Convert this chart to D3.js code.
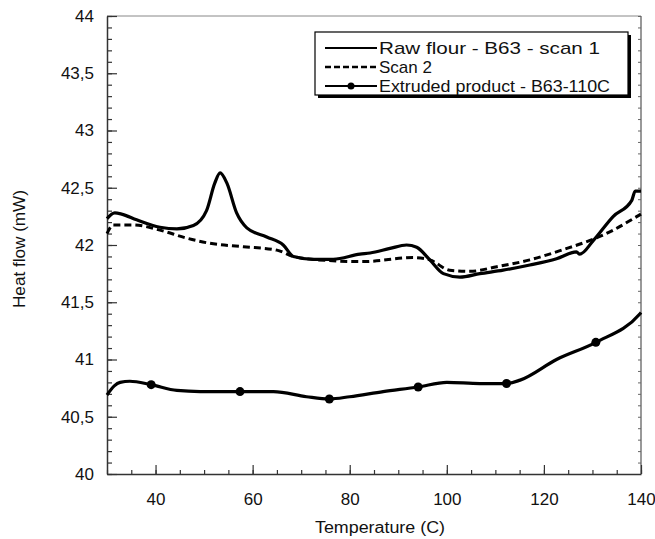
<!DOCTYPE html>
<html>
<head>
<meta charset="utf-8">
<script src="https://cdn.jsdelivr.net/npm/d3@7"></script>
<style>
body { margin: 0; background: #fff; }
text { font-family: "Liberation Sans", Arial, sans-serif; }
</style>
</head>
<body>
<script>
// scan 1 (raw flour)
const scan1 = [
  [30, 42.23], [31.6, 42.28], [33, 42.27], [36.1, 42.22], [40.9, 42.155], [44.4, 42.14],
  [47.8, 42.17], [50.5, 42.30], [52.2, 42.54], [53.3, 42.63], [54.7, 42.54], [56.7, 42.28],
  [58.8, 42.15], [62.9, 42.07], [66.3, 42.0], [68.4, 41.90], [72.5, 41.875], [76.6, 41.875],
  [82.1, 41.92], [84.2, 41.93], [88.3, 41.97], [91.7, 42.0], [93.8, 41.98], [96.5, 41.87],
  [99.3, 41.75], [102.7, 41.72], [106.8, 41.75], [111.6, 41.78], [117.1, 41.825],
  [122.6, 41.88], [126.7, 41.94], [127.4, 41.92], [130.2, 42.04], [134.3, 42.25],
  [138.1, 42.39], [138.8, 42.47], [140, 42.47]
];
// scan 2
const scan2 = [
  [30, 42.10], [31.3, 42.175], [35.4, 42.175], [40.9, 42.13], [46.4, 42.06], [51.2, 42.015],
  [58.1, 41.985], [65, 41.955], [68.4, 41.90], [75.3, 41.865], [82.8, 41.855], [93.1, 41.89],
  [96.5, 41.87], [100.6, 41.78], [104.8, 41.77], [110.3, 41.81], [117.1, 41.87], [124, 41.96],
  [129.5, 42.04], [134.3, 42.13], [138.4, 42.23], [140, 42.27]
];
// extruded product
const extruded = [
  [30, 40.69], [31.5, 40.77], [32.7, 40.80], [34.7, 40.81], [39.1, 40.78], [44.4, 40.73], [49.2, 40.72],
  [57.4, 40.72], [64.3, 40.72], [71.1, 40.675], [75.8, 40.655], [80, 40.675], [86.9, 40.72],
  [94.1, 40.76], [100, 40.80], [106.8, 40.79], [112.3, 40.79], [115.1, 40.82], [122.6, 41.0],
  [130.7, 41.15], [139.8, 41.40], [140, 41.41]
];
const extrudedMarks = [[39.1, 40.78], [57.4, 40.72], [75.8, 40.655], [94.1, 40.76], [112.3, 40.79], [130.7, 41.15]];

const xTicks = [40, 60, 80, 100, 120, 140];
const yTicks = [40, 40.5, 41, 41.5, 42, 42.5, 43, 43.5, 44];
const legendLabels = ["Raw flour - B63 - scan 1", "Scan 2", "Extruded product - B63-110C"];
const legendWidths = [221, 53, 231];

const W = 655, H = 539;
const L = 107, R = 641, T = 16, B = 474;

const svg = d3.select("body").append("svg").attr("width", W).attr("height", H);

const x = d3.scaleLinear().domain([30, 140]).range([L, R]);
const y = d3.scaleLinear().domain([40, 44]).range([B, T]);

const fmt = d => String(d).replace(".", ",");

// frame
svg.append("line").attr("x1", L).attr("x2", R).attr("y1", T).attr("y2", T).attr("stroke", "#888").attr("stroke-width", 1);
svg.append("line").attr("x1", R).attr("x2", R).attr("y1", T).attr("y2", B).attr("stroke", "#555").attr("stroke-width", 1.2);

// minor ticks
const minorY = d3.range(40, 44.001, 0.1);
svg.append("g").attr("transform", `translate(${L},0)`)
  .call(d3.axisRight(y).tickValues(minorY).tickSize(5).tickFormat(""))
  .call(g => g.selectAll("line").attr("stroke", "#333").attr("stroke-width", 1.2))
  .call(g => g.select(".domain").remove());
svg.append("g").attr("transform", `translate(${R},0)`)
  .call(d3.axisLeft(y).tickValues(minorY).tickSize(3).tickFormat(""))
  .call(g => g.selectAll("line").attr("stroke", "#666"))
  .call(g => g.select(".domain").remove());
const minorX = d3.range(30, 140.001, 5);
svg.append("g").attr("transform", `translate(0,${B})`)
  .call(d3.axisTop(x).tickValues(minorX).tickSize(4).tickFormat(""))
  .call(g => g.selectAll("line").attr("stroke", "#333").attr("stroke-width", 1.2))
  .call(g => g.select(".domain").remove());

// major axes
const yAxis = svg.append("g").attr("transform", `translate(${L},0)`)
  .call(d3.axisLeft(y).tickValues(yTicks).tickFormat(fmt).tickSize(0).tickPadding(13));
yAxis.select(".domain").attr("stroke", "#333").attr("stroke-width", 1.5);
yAxis.selectAll("text").attr("font-size", 17).attr("fill", "#111").attr("font-family", "Liberation Sans, Arial, sans-serif");
svg.append("g").attr("transform", `translate(${L},0)`)
  .call(d3.axisRight(y).tickValues(yTicks).tickSize(10).tickFormat(""))
  .call(g => g.selectAll("line").attr("stroke", "#333").attr("stroke-width", 1.2))
  .call(g => g.select(".domain").remove());

const xAxis = svg.append("g").attr("transform", `translate(0,${B})`)
  .call(d3.axisBottom(x).tickValues(xTicks).tickSize(0).tickPadding(19));
xAxis.select(".domain").attr("stroke", "#333").attr("stroke-width", 1.5);
xAxis.selectAll("text").attr("font-size", 17).attr("fill", "#111").attr("font-family", "Liberation Sans, Arial, sans-serif");
svg.append("g").attr("transform", `translate(0,${B})`)
  .call(d3.axisTop(x).tickValues(xTicks).tickSize(9).tickFormat(""))
  .call(g => g.selectAll("line").attr("stroke", "#333").attr("stroke-width", 1.2))
  .call(g => g.select(".domain").remove());

// titles
svg.append("text").attr("x", 380).attr("y", 533).attr("text-anchor", "middle")
  .attr("font-size", 16).attr("fill", "#111")
  .attr("textLength", 130).attr("lengthAdjust", "spacingAndGlyphs").text("Temperature (C)");
svg.append("text").attr("transform", `translate(25,249) rotate(-90)`).attr("text-anchor", "middle")
  .attr("font-size", 16).attr("fill", "#111")
  .attr("textLength", 118).attr("lengthAdjust", "spacingAndGlyphs").text("Heat flow (mW)");

// lines
const line = d3.line().x(d => x(d[0])).y(d => y(d[1])).curve(d3.curveMonotoneX);
svg.append("path").datum(scan2).attr("d", line).attr("fill", "none")
  .attr("stroke", "#000").attr("stroke-width", 3).attr("stroke-dasharray", "7,4");
svg.append("path").datum(scan1).attr("d", line).attr("fill", "none")
  .attr("stroke", "#000").attr("stroke-width", 3.2).attr("stroke-linejoin", "round");
svg.append("path").datum(extruded).attr("d", line).attr("fill", "none")
  .attr("stroke", "#000").attr("stroke-width", 3.2);
svg.selectAll("circle.mk").data(extrudedMarks).enter().append("circle").attr("class", "mk")
  .attr("cx", d => x(d[0])).attr("cy", d => y(d[1])).attr("r", 4.5).attr("fill", "#000");

// legend
const lg = svg.append("g");
lg.append("rect").attr("x", 318).attr("y", 35).attr("width", 313).attr("height", 63).attr("fill", "#000");
lg.append("rect").attr("x", 315).attr("y", 32).attr("width", 313).attr("height", 63)
  .attr("fill", "#fff").attr("stroke", "#000").attr("stroke-width", 1.2);
const rowsY = [48, 67, 86];
legendLabels.forEach((lab, i) => {
  const ly = rowsY[i];
  lg.append("line").attr("x1", 325).attr("x2", 377).attr("y1", ly).attr("y2", ly)
    .attr("stroke", "#000").attr("stroke-width", i === 1 ? 2.5 : 2)
    .attr("stroke-dasharray", i === 1 ? "6,3" : null);
  if (i === 2) lg.append("circle").attr("cx", 351).attr("cy", ly).attr("r", 3.5).attr("fill", "#000");
  lg.append("text").attr("x", 379).attr("y", ly + 6).attr("font-size", 17).attr("fill", "#111")
    .attr("textLength", legendWidths[i]).attr("lengthAdjust", "spacingAndGlyphs").text(lab);
});
</script>
</body>
</html>
